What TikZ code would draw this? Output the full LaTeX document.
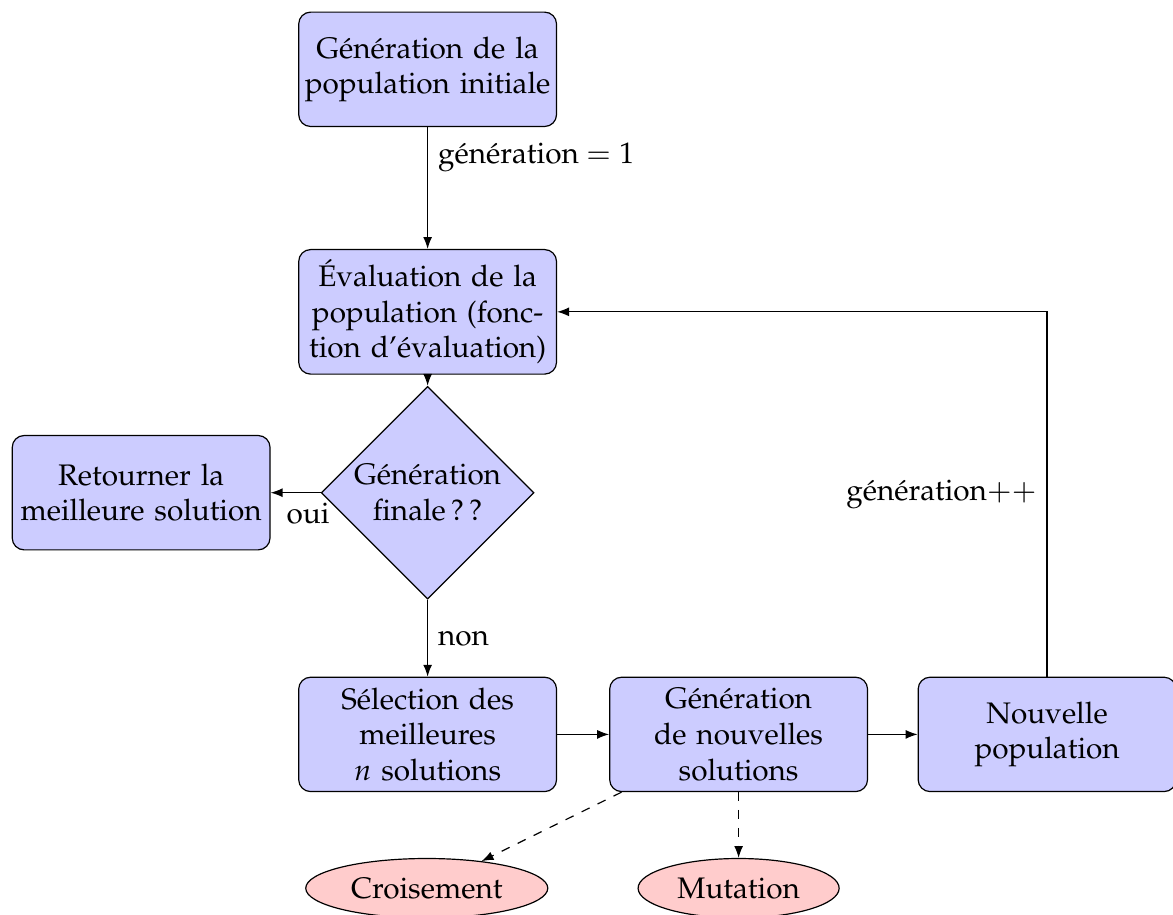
\documentclass[tikz,border=0pt]{standalone}
\usepackage[T1]{fontenc}
\usepackage{mathpazo}
\usepackage{tikz}
\usetikzlibrary{arrows.meta,positioning,shapes.geometric}
\definecolor{gblue}{RGB}{204,204,255}
\definecolor{gred}{RGB}{255,204,204}
\begin{document}
\begin{tikzpicture}[
    bloc/.style={rectangle, draw, fill=gblue, rounded corners=4pt, text width=86pt, inner xsep=0.4pt, align=center, minimum height=3.85em},
    test/.style={diamond, draw, fill=gblue, text width=52.5pt, align=center, inner sep=0pt},
    op/.style={ellipse, draw, fill=gred, minimum height=2em},
    flow/.style={-{Latex[length=4pt,width=3pt]}},
    dflow/.style={flow, dashed}
]
    \useasboundingbox (0,0) rectangle (13.88,-10.82);

    % Main loop
    \node[bloc] (init) at (5.06,-0.82) {G\'en\'eration de la\\population initiale};
    \node[bloc] (eval) at (5.06,-3.69) {\'Evaluation de la\\population (fonc-\\tion d'\'evaluation)};
    \node[test] (final) at (5.06,-5.83) {G\'en\'eration\\finale\,?\,?};
    \node[bloc] (retour) at (1.67,-5.83) {Retourner la\\meilleure solution};
    \node[bloc] (select) at (5.06,-8.69) {S\'election des\\meilleures\\$n$ solutions};
    \node[bloc] (gen) at (8.74,-8.69) {G\'en\'eration\\de nouvelles\\solutions};
    \node[bloc] (newpop) at (12.39,-8.69) {Nouvelle\\population};

    % Operators
    \node[op] (crois) at (5.05,-10.51) {Croisement};
    \node[op] (mut) at (8.74,-10.51) {Mutation};

    % Flows
    \draw[flow] (init) -- node[right, pos=0.25] {g\'en\'eration $=1$} (eval);
    \draw[flow] (eval) -- (final);
    \draw[flow] (final) -- node[below, pos=0.25] {oui} (retour);
    \draw[flow] (final) -- node[right] {non} (select);
    \draw[flow] (select) -- (gen);
    \draw[flow] (gen) -- (newpop);
    \draw[flow] (newpop) |- node[left, pos=0.25] {g\'en\'eration$++$} (eval);
    \draw[dflow] (gen) -- (crois);
    \draw[dflow] (gen) -- (mut);

\end{tikzpicture}
\end{document}
